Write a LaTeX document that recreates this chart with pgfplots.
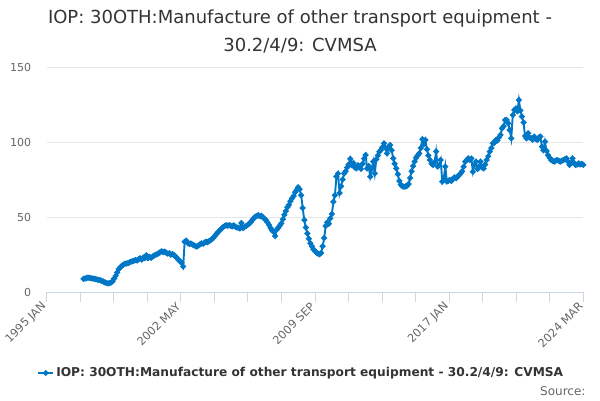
\documentclass[border=0pt]{standalone}
\usepackage{fontspec}
\setmainfont{DejaVu Sans}
\usepackage{pgfplots}
\pgfplotsset{compat=1.18}
\definecolor{series}{HTML}{0076C6}
\definecolor{axisline}{HTML}{CCD6EB}
\definecolor{gridc}{HTML}{E6E6E6}
\definecolor{labc}{HTML}{666666}
\definecolor{titc}{HTML}{333333}
\begin{document}
\begin{tikzpicture}[x=1pt,y=1pt]
\useasboundingbox (0,0) rectangle (600,400);
\node[anchor=base, text=titc, font=\fontsize{18}{22}\selectfont] at (300,376) {IOP: 30OTH:Manufacture of other transport equipment -};
\node[anchor=base, text=titc, font=\fontsize{18}{22}\selectfont] at (300,348.5) {30.2/4/9: CVMSA};
\begin{axis}[
  at={(46.7pt,108pt)}, anchor=south west,
  width=536.6pt, height=225pt, scale only axis,
  xmin=0, xmax=350, ymin=0, ymax=150,
  axis x line*=bottom, axis y line*=left,
  x axis line style={-, draw=axisline, line width=1pt},
  y axis line style={draw=none},
  ytick={0,50,100,150},
  ymajorgrids, grid style={draw=gridc, line width=0.8pt},
  ytick style={draw=none},
  xtick={0,87.5,175,262.5,350},
  xticklabels={1995 JAN,2002 MAY,2009 SEP,2017 JAN,2024 MAR},
  minor xtick={21.875,43.75,65.625,109.375,131.25,153.125,196.875,218.75,240.625,284.375,306.25,328.125},
  tick align=outside, major tick length=10pt, minor tick length=10pt,
  xtick style={draw=axisline, line width=1pt},
  minor x tick style={draw=axisline, line width=1pt},
  /pgf/number format/assume math mode=true,
  yticklabel style={text=labc, font=\fontsize{11}{13}\selectfont, anchor=east, xshift=-2pt},
  xticklabel style={text=labc, font=\fontsize{11.3}{13}\selectfont, anchor=east, rotate=45},
  legend style={at={(-0.0235,-0.36)}, anchor=west, draw=none, fill=none,
    font=\bfseries\fontsize{12.2}{15}\selectfont, text=titc},
  legend cell align=left,
  legend image code/.code={\draw[series, line width=2pt] (0pt,0pt) -- (15pt,0pt); \fill[series] (7.5pt,0pt) circle (1.8pt);},
  clip=false,
]
\addplot[series, line width=1.9pt, mark=*, mark size=1.9pt, mark options={fill=series, draw=series}] coordinates {
(24,8.7)(25,9.0)(26,9.3)(27,9.6)(28,9.4)(29,9.2)(30,9.0)(31,8.8)(32,8.6)(33,8.3)(34,8.0)(35,7.8)
(36,7.3)(37,6.9)(38,6.4)(39,6.0)(40,5.8)(41,5.9)(42,6.3)(43,7.2)(44,9.0)(45,10.8)(46,13.0)(47,15.2)
(48,16.5)(49,17.5)(50,18.2)(51,18.8)(52,19.0)(53,19.3)(54,19.8)(55,20.2)(56,20.5)(57,20.9)(58,21.3)(59,21.0)
(60,21.8)(61,22.5)(62,21.6)(63,23.0)(64,22.6)(65,24.5)(66,22.5)(67,23.4)(68,22.8)(69,23.6)(70,24.2)(71,24.8)
(72,25.2)(73,25.8)(74,26.5)(75,27.2)(76,26.6)(77,27.0)(78,26.1)(79,25.6)(80,25.9)(81,24.9)(82,25.3)(83,24.6)
(84,23.8)(85,22.5)(86,21.4)(87,20.4)(88,19.5)(89,17.0)(90,33.5)(91,34.2)(92,32.5)(93,32.0)(94,32.3)(95,31.6)
(96,31.2)(97,30.6)(98,30.3)(99,31.0)(100,31.8)(101,32.4)(102,32.2)(103,33.0)(104,33.5)(105,33.2)(106,34.0)(107,34.6)
(108,35.5)(109,36.5)(110,37.8)(111,39.0)(112,40.2)(113,41.2)(114,42.3)(115,43.2)(116,44.0)(117,44.5)(118,44.2)(119,44.6)
(120,44.2)(121,43.8)(122,44.4)(123,43.5)(124,43.0)(125,42.8)(126,42.4)(127,46.0)(128,42.6)(129,43.4)(130,44.0)(131,44.7)
(132,45.5)(133,46.5)(134,47.8)(135,49.0)(136,50.2)(137,50.6)(138,51.3)(139,50.5)(140,50.9)(141,49.8)(142,48.8)(143,48.0)
(144,46.5)(145,44.8)(146,42.8)(147,41.0)(148,40.2)(149,37.3)(150,41.5)(151,42.8)(152,44.2)(153,45.8)(154,48.5)(155,51.5)
(156,54.0)(157,56.5)(158,58.0)(159,60.5)(160,62.4)(161,64.0)(162,66.5)(163,68.0)(164,69.8)(165,68.5)(166,64.5)(167,56.0)
(168,48.0)(169,43.0)(170,39.0)(171,35.5)(172,32.5)(173,30.5)(174,28.5)(175,27.3)(176,26.3)(177,25.5)(178,25.1)(179,26.0)
(180,30.5)(181,36.0)(182,44.0)(183,46.4)(184,45.5)(185,49.1)(186,52.0)(187,60.2)(188,64.5)(189,77.0)(190,79.0)(191,66.0)
(192,70.5)(193,75.0)(194,79.0)(195,80.5)(196,83.0)(197,85.0)(198,88.7)(199,84.5)(200,86.0)(201,83.0)(202,82.4)(203,84.5)
(204,83.6)(205,82.0)(206,85.5)(207,89.0)(208,91.3)(209,82.4)(210,84.0)(211,76.9)(212,82.0)(213,86.9)(214,79.1)(215,88.5)
(216,91.0)(217,93.5)(218,94.7)(219,96.5)(220,99.1)(221,96.0)(222,92.4)(223,96.5)(224,98.0)(225,94.5)(226,89.1)(227,85.5)
(228,82.4)(229,78.5)(230,74.0)(231,71.5)(232,70.5)(233,70.2)(234,70.4)(235,70.8)(236,72.0)(237,76.0)(238,80.5)(239,84.0)
(240,87.0)(241,89.5)(242,91.0)(243,92.4)(244,96.0)(245,101.8)(246,98.5)(247,101.3)(248,95.1)(249,91.0)(250,88.0)(251,85.5)
(252,84.7)(253,86.5)(254,93.6)(255,83.6)(256,84.5)(257,88.0)(258,73.6)(259,76.0)(260,83.6)(261,73.6)(262,74.2)(263,74.7)
(264,74.0)(265,75.5)(266,76.4)(267,75.8)(268,77.0)(269,77.8)(270,79.1)(271,80.5)(272,83.5)(273,86.9)(274,88.0)(275,89.1)
(276,88.0)(277,89.0)(278,80.2)(279,84.5)(280,86.9)(281,82.0)(282,83.6)(283,86.9)(284,83.0)(285,82.4)(286,85.0)(287,88.0)
(288,90.5)(289,93.6)(290,96.0)(291,99.1)(292,99.5)(293,101.3)(294,101.0)(295,103.0)(296,104.7)(297,109.1)(298,110.5)(299,114.7)
(300,114.7)(301,112.4)(302,108.0)(303,102.4)(304,118.0)(305,121.3)(306,122.4)(307,120.5)(308,128.0)(309,121.0)(310,117.0)(311,113.0)
(312,104.0)(313,102.4)(314,105.8)(315,103.0)(316,102.4)(317,101.5)(318,103.6)(319,102.0)(320,101.3)(321,103.0)(322,103.6)(323,96.9)
(324,94.5)(325,100.2)(326,94.0)(327,91.3)(328,89.5)(329,88.0)(330,87.5)(331,86.9)(332,87.5)(333,88.0)(334,87.5)(335,86.9)
(336,87.5)(337,88.0)(338,88.5)(339,89.1)(340,87.0)(341,84.7)(342,86.0)(343,89.1)(344,86.0)(345,84.7)(346,85.0)(347,85.8)
(348,85.0)(349,85.5)(350,84.7)
};
\addlegendentry{IOP: 30OTH:Manufacture of other transport equipment - 30.2/4/9: CVMSA}
\end{axis}
\node[anchor=base east, text=labc, font=\fontsize{12}{14}\selectfont] at (589,5) {Source:};
\end{tikzpicture}
\end{document}
